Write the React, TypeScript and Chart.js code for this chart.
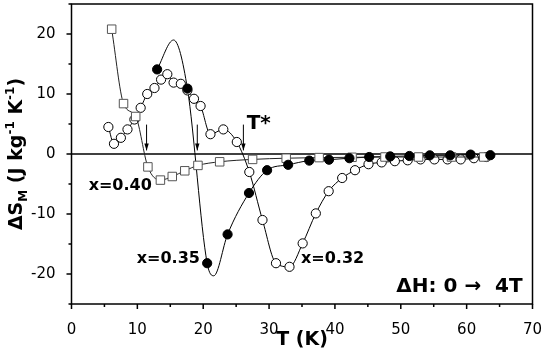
import React, { useEffect, useRef } from "react";
import { Chart, registerables } from "chart.js";

Chart.register(...registerables);

// ---------- data ----------
// x = 0.40 (open squares)
const sq040: [number, number][] = [
  [6.1, 20.8], [7.9, 8.4], [9.75, 6.25], [11.6, -2.15], [13.5, -4.35], [15.3, -3.75],
  [17.2, -2.8], [19.2, -1.9], [22.5, -1.3], [27.5, -0.9], [32.6, -0.7], [37.6, -0.6],
  [42.6, -0.55], [47.6, -0.5], [52.7, -0.5], [57.7, -0.5], [62.6, -0.5],
];
// x = 0.32 (open circles)
const open032: [number, number][] = [
  [5.6, 4.5], [6.45, 1.7], [7.5, 2.7], [8.5, 4.1], [9.55, 5.75], [10.5, 7.7], [11.5, 10.0],
  [12.6, 11.0], [13.6, 12.4], [14.55, 13.3], [15.5, 11.9], [16.6, 11.7], [17.6, 10.6],
  [18.6, 9.2], [19.6, 8.0], [21.1, 3.3], [23.05, 4.1], [25.1, 2.0], [27.0, -3.0],
  [29.0, -11.0], [31.05, -18.2], [33.1, -18.8], [35.1, -14.9], [37.1, -9.9], [39.05, -6.2],
  [41.1, -4.0], [43.05, -2.7], [45.1, -1.7], [47.1, -1.4], [49.1, -1.2], [51.05, -1.05],
  [53.0, -0.9], [55.1, -0.9], [57.1, -0.9], [59.1, -0.9], [61.1, -0.7], [63.0, -0.5],
];
// x = 0.35 (filled circles)
const filled035: [number, number][] = [
  [13.0, 14.1], [17.6, 10.9], [20.6, -18.2], [23.7, -13.4], [26.95, -6.5], [29.7, -2.7],
  [32.9, -1.8], [36.1, -1.1], [39.1, -0.95], [42.2, -0.7], [45.2, -0.5], [48.4, -0.4],
  [51.3, -0.33], [54.4, -0.22], [57.5, -0.22], [60.6, -0.1], [63.6, -0.2],
];
// points read along the drawn x = 0.35 line (includes its visible peak and minimum)
const curve035: [number, number][] = [
  [13.0, 14.1], [15.5, 19.0], [17.6, 10.9], [20.6, -18.2], [21.6, -20.3], [23.7, -13.4],
  [26.95, -6.5], [29.7, -2.7], [32.9, -1.8], [36.1, -1.1], [39.1, -0.95], [42.2, -0.7],
  [45.2, -0.5], [48.4, -0.4], [51.3, -0.33], [54.4, -0.22], [57.5, -0.22], [60.6, -0.1],
  [63.6, -0.2],
];
// T* arrows (temperature) and their span in ΔS
const arrowT: number[] = [11.4, 19.1, 26.1];
const arrowSpan: [number, number] = [4.9, 0.6];

const xRange: [number, number] = [0, 70];
const yRange: [number, number] = [-25, 25];
const majorStep = 10;
const minorStep = 5;

// text annotations (data coordinates)
const notes = [
  { text: "x=0.40", x: 12.2, y: -5.3, align: "right", size: 16 },
  { text: "x=0.35", x: 19.5, y: -17.4, align: "right", size: 16 },
  { text: "x=0.32", x: 34.85, y: -17.4, align: "left", size: 16 },
  { text: "\u0394H: 0 \u2192  4T", x: 68.5, y: -22.2, align: "right", size: 20 },
  { text: "T*", x: 26.6, y: 5.0, align: "left", size: 20 },
];

const FONT = "'DejaVu Sans', 'Verdana', sans-serif";
const pts = (a: [number, number][]) => a.map(([x, y]) => ({ x, y }));

const decor = {
  id: "decor",
  beforeDatasetsDraw(chart: any) {
    const { ctx, chartArea } = chart;
    const ys = chart.scales.y;
    ctx.save();
    ctx.strokeStyle = "#000";
    ctx.lineWidth = 1.5;
    const p0 = ys.getPixelForValue(0);
    ctx.beginPath();
    ctx.moveTo(chartArea.left, p0);
    ctx.lineTo(chartArea.right, p0);
    ctx.stroke();
    ctx.restore();
  },
  afterDraw(chart: any) {
    const { ctx, chartArea } = chart;
    const { left, right, top, bottom } = chartArea;
    const xs = chart.scales.x;
    const ys = chart.scales.y;
    ctx.save();
    ctx.strokeStyle = "#000";
    ctx.fillStyle = "#000";
    ctx.lineWidth = 1.5;
    ctx.strokeRect(left, top, right - left, bottom - top);

    // ticks
    ctx.beginPath();
    for (let v = xRange[0]; v <= xRange[1]; v += minorStep) {
      const p = xs.getPixelForValue(v);
      const L = v % majorStep === 0 ? 5 : 3;
      ctx.moveTo(p, bottom);
      ctx.lineTo(p, bottom + L);
    }
    for (let v = yRange[0]; v <= yRange[1]; v += minorStep) {
      const p = ys.getPixelForValue(v);
      const L = v % majorStep === 0 ? 5 : 3;
      ctx.moveTo(left, p);
      ctx.lineTo(left - L, p);
    }
    ctx.stroke();

    // arrows
    ctx.lineWidth = 1;
    for (const t of arrowT) {
      const x = xs.getPixelForValue(t);
      const y1 = ys.getPixelForValue(arrowSpan[0]);
      const y2 = ys.getPixelForValue(arrowSpan[1]);
      ctx.beginPath();
      ctx.moveTo(x, y1);
      ctx.lineTo(x, y2);
      ctx.stroke();
      ctx.beginPath();
      ctx.moveTo(x - 2.2, y2 - 7);
      ctx.lineTo(x, y2);
      ctx.lineTo(x + 2.2, y2 - 7);
      ctx.closePath();
      ctx.fill();
    }

    // annotations
    ctx.textBaseline = "middle";
    for (const n of notes) {
      ctx.font = `bold ${n.size}px ${FONT}`;
      ctx.textAlign = n.align as CanvasTextAlign;
      ctx.fillText(n.text, xs.getPixelForValue(n.x), ys.getPixelForValue(n.y));
    }

    // x title
    ctx.font = `bold 19px ${FONT}`;
    ctx.textAlign = "center";
    ctx.textBaseline = "middle";
    ctx.fillText("T (K)", (left + right) / 2, bottom + 36);

    // y title (rotated, with sub/superscripts)
    const parts = [
      { t: "\u0394S", s: 19, dy: 0 },
      { t: "M", s: 12, dy: 5 },
      { t: " (J kg", s: 19, dy: 0 },
      { t: "-1", s: 12, dy: -8 },
      { t: " K", s: 19, dy: 0 },
      { t: "-1", s: 12, dy: -8 },
      { t: ")", s: 19, dy: 0 },
    ];
    let total = 0;
    const widths = parts.map((p) => {
      ctx.font = `bold ${p.s}px ${FONT}`;
      const w = ctx.measureText(p.t).width;
      total += w;
      return w;
    });
    ctx.translate(22, (top + bottom) / 2);
    ctx.rotate(-Math.PI / 2);
    ctx.textAlign = "left";
    ctx.textBaseline = "alphabetic";
    let cx = -total / 2;
    parts.forEach((p, i) => {
      ctx.font = `bold ${p.s}px ${FONT}`;
      ctx.fillText(p.t, cx, p.dy);
      cx += widths[i];
    });
    ctx.restore();
  },
};

export default function App() {
  const ref = useRef<HTMLCanvasElement>(null);
  useEffect(() => {
    document.body.style.margin = "0";
    const tickCb = (v: any) => (Number(v) % majorStep === 0 ? String(v) : null);
    const chart = new Chart(ref.current as HTMLCanvasElement, {
      type: "scatter",
      data: {
        datasets: [
          {
            label: "x=0.35",
            data: pts(filled035),
            showLine: false,
            pointStyle: "circle",
            pointRadius: 4.6,
            pointBackgroundColor: "#000",
            pointBorderColor: "#000",
            pointBorderWidth: 1,
          },
          {
            label: "x=0.40",
            data: pts(sq040),
            showLine: true,
            cubicInterpolationMode: "monotone",
            borderColor: "#222",
            borderWidth: 1,
            pointStyle: "rect",
            pointRadius: 6,
            pointBackgroundColor: "#fff",
            pointBorderColor: "#555",
            pointBorderWidth: 1,
          },
          {
            label: "x=0.32",
            data: pts(open032),
            showLine: true,
            cubicInterpolationMode: "monotone",
            borderColor: "#000",
            borderWidth: 1,
            pointStyle: "circle",
            pointRadius: 4.6,
            pointBackgroundColor: "#fff",
            pointBorderColor: "#000",
            pointBorderWidth: 1,
          },
          {
            label: "x=0.35 line",
            data: pts(curve035),
            showLine: true,
            cubicInterpolationMode: "monotone",
            borderColor: "#000",
            borderWidth: 1,
            pointRadius: 0,
          },
        ] as any,
      },
      options: {
        animation: false,
        responsive: true,
        maintainAspectRatio: false,
        layout: { padding: { top: 2, right: 12.5, left: 0, bottom: 0 } },
        plugins: { legend: { display: false }, tooltip: { enabled: false } },
        scales: {
          x: {
            type: "linear",
            min: xRange[0],
            max: xRange[1],
            grid: { display: false },
            border: { display: false },
            ticks: {
              stepSize: minorStep,
              autoSkip: false,
              maxRotation: 0,
              callback: tickCb,
              color: "#000",
              padding: 9,
              font: { family: FONT, size: 15 },
            },
            afterFit: (s: any) => {
              s.height = 52;
              s.paddingLeft = 0;
              s.paddingRight = 0;
            },
          },
          y: {
            type: "linear",
            min: yRange[0],
            max: yRange[1],
            grid: { display: false },
            border: { display: false },
            ticks: {
              stepSize: minorStep,
              autoSkip: false,
              callback: tickCb,
              color: "#000",
              padding: 8,
              font: { family: FONT, size: 15 },
            },
            afterFit: (s: any) => {
              s.width = 71.5;
              s.paddingTop = 0;
              s.paddingBottom = 0;
            },
          },
        },
      } as any,
      plugins: [decor],
    });
    return () => chart.destroy();
  }, []);
  return (
    <div style={{ position: "absolute", left: 0, top: -3, width: 545, height: 359 }}>
      <canvas ref={ref} />
    </div>
  );
}
